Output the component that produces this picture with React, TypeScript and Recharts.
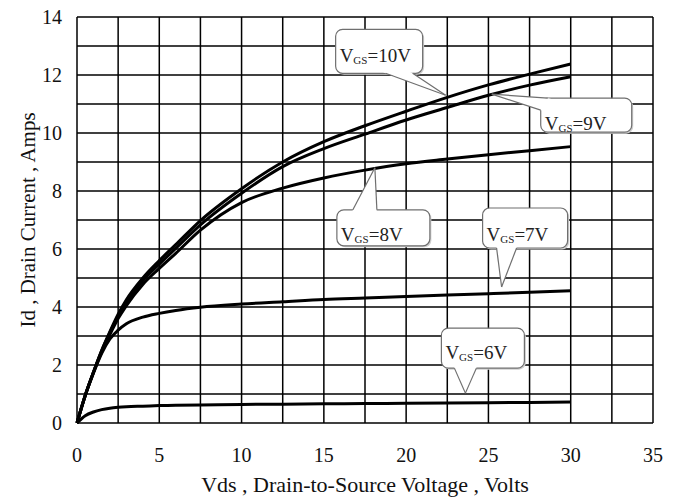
import React from "react";
import {
  LineChart,
  Line,
  XAxis,
  YAxis,
  CartesianGrid,
  ReferenceDot,
  Label,
} from "recharts";

// drain-source voltage sample points (V)
const vds = [0, 0.5, 1, 1.5, 2, 2.5, 3, 4, 5, 6, 7.5, 10, 12.5, 15, 17.5, 20, 22.5, 25, 27.5, 30];

// drain current (A) per gate voltage
const id10 = [0, 0.95, 1.75, 2.5, 3.15, 3.75, 4.25, 5.0, 5.6, 6.15, 6.98, 8.08, 9.0, 9.7, 10.25, 10.75, 11.23, 11.66, 12.03, 12.38];
const id9 = [0, 0.95, 1.75, 2.5, 3.12, 3.68, 4.15, 4.9, 5.48, 6.02, 6.83, 7.92, 8.84, 9.46, 9.96, 10.45, 10.88, 11.3, 11.65, 11.94];
const id8 = [0, 0.95, 1.75, 2.45, 3.05, 3.6, 4.05, 4.78, 5.33, 5.85, 6.65, 7.6, 8.1, 8.45, 8.72, 8.94, 9.1, 9.25, 9.39, 9.53];
const id7 = [0, 0.95, 1.72, 2.4, 2.9, 3.2, 3.42, 3.65, 3.78, 3.88, 3.99, 4.1, 4.18, 4.26, 4.31, 4.36, 4.41, 4.46, 4.51, 4.56];
const id6 = [0, 0.25, 0.38, 0.46, 0.51, 0.54, 0.56, 0.58, 0.6, 0.61, 0.62, 0.64, 0.65, 0.66, 0.67, 0.68, 0.69, 0.7, 0.71, 0.72];

// grid every 2.5 V / 1 A, labels every 5 V / 2 A
const xTicks = [0, 2.5, 5, 7.5, 10, 12.5, 15, 17.5, 20, 22.5, 25, 27.5, 30, 32.5, 35];
const yTicks = [0, 1, 2, 3, 4, 5, 6, 7, 8, 9, 10, 11, 12, 13, 14];

// callout labels and the point each tail points at (V, A)
const calloutLabels = ["10V", "9V", "8V", "7V", "6V"];
const calloutX = [22.4, 25.2, 18.1, 25.8, 23.6];
const calloutY = [11.3, 11.34, 8.8, 4.69, 1.03];

const data = vds.map((v, i) => ({
  vds: v,
  v10: id10[i],
  v9: id9[i],
  v8: id8[i],
  v7: id7[i],
  v6: id6[i],
}));

const FONT = "'Liberation Serif', 'Times New Roman', serif";

// box geometry relative to the tail tip, in px
type Box = {
  dx: number;
  dy: number;
  w: number;
  h: number;
  b1: [number, number];
  b2: [number, number];
  base: number;
};

const boxes: Box[] = [
  { dx: -110, dy: -66, w: 87, h: 44, b1: [-60, -22], b2: [-33, -22], base: 33 },
  { dx: 49, dy: 4, w: 91, h: 34, b1: [56, 4], b2: [49, 16], base: 32 },
  { dx: -38, dy: 42, w: 93, h: 36, b1: [-22, 42], b2: [2, 42], base: 31 },
  { dx: -19, dy: -79, w: 85, h: 40, b1: [-5, -39], b2: [15, -39], base: 33 },
  { dx: -24, dy: -65, w: 83, h: 40, b1: [-11, -25], b2: [11, -25], base: 31 },
];

function Callout({ cx, cy, label, box }: { cx: number; cy: number; label: string; box: Box }) {
  const bx = cx + box.dx;
  const by = cy + box.dy;
  const p1 = [cx + box.b1[0], cy + box.b1[1]];
  const p2 = [cx + box.b2[0], cy + box.b2[1]];
  // push the tail base a little inside the box so it hides the border there
  const mx = (p1[0] + p2[0]) / 2 - cx;
  const my = (p1[1] + p2[1]) / 2 - cy;
  const len = Math.hypot(mx, my) || 1;
  const ix = (mx / len) * 3;
  const iy = (my / len) * 3;
  const pts = [
    [cx, cy],
    p1,
    [p1[0] + ix, p1[1] + iy],
    [p2[0] + ix, p2[1] + iy],
    p2,
  ]
    .map((p) => p.join(","))
    .join(" ");
  return (
    <g>
      <rect x={bx + 1.5} y={by + 1.5} width={box.w} height={box.h} rx={7} fill="#cfcfcf" />
      <rect x={bx} y={by} width={box.w} height={box.h} rx={7} fill="#fff" stroke="#6f6f6f" strokeWidth={1.2} />
      <polygon points={pts} fill="#fff" stroke="none" />
      <line x1={cx} y1={cy} x2={p1[0]} y2={p1[1]} stroke="#6f6f6f" strokeWidth={1.2} />
      <line x1={cx} y1={cy} x2={p2[0]} y2={p2[1]} stroke="#6f6f6f" strokeWidth={1.2} />
      <text x={bx + 4} y={by + box.base} fontFamily={FONT} fontSize={19} fill="#222">
        V
        <tspan fontSize={11} dy={2}>GS</tspan>
        <tspan dy={-2}>={label}</tspan>
      </text>
    </g>
  );
}

const series = ["v10", "v9", "v8", "v7", "v6"];

export default function App() {
  const tickStyle = { fontFamily: FONT, fontSize: 20, fill: "#111" };
  return (
    <div style={{ position: "fixed", left: 0, top: 0, background: "#fff" }}>
      <LineChart
        width={678}
        height={497}
        data={data}
        margin={{ top: 17, right: 25, bottom: 0, left: 17 }}
      >
        <CartesianGrid stroke="#000" strokeWidth={1.5} strokeOpacity={1} />
        <XAxis
          dataKey="vds"
          type="number"
          domain={[0, 35]}
          ticks={xTicks}
          interval={0}
          tickFormatter={(v: number) => (v % 5 === 0 ? String(v) : "")}
          axisLine={false}
          tickLine={false}
          tickSize={0}
          tickMargin={25}
          height={74}
          tick={tickStyle}
        >
          <Label
            value="Vds , Drain-to-Source Voltage , Volts"
            position="insideBottom"
            offset={5}
            style={{ fontFamily: FONT, fontSize: 22, fill: "#111" }}
          />
        </XAxis>
        <YAxis
          type="number"
          domain={[0, 14]}
          ticks={yTicks}
          interval={0}
          tickFormatter={(v: number) => (v % 2 === 0 ? String(v) : "")}
          axisLine={false}
          tickLine={false}
          tickSize={0}
          tickMargin={15}
          width={60}
          tick={tickStyle}
        >
          <Label
            value="Id , Drain Current , Amps"
            angle={-90}
            position="insideLeft"
            offset={11}
            style={{ fontFamily: FONT, fontSize: 21, fill: "#111", textAnchor: "middle" }}
          />
        </YAxis>
        {series.map((key) => (
          <Line
            key={key}
            dataKey={key}
            type="monotone"
            stroke="#000"
            strokeWidth={3}
            dot={false}
            activeDot={false}
            isAnimationActive={false}
          />
        ))}
        {calloutLabels.map((label, i) => (
          <ReferenceDot
            key={label}
            x={calloutX[i]}
            y={calloutY[i]}
            r={0}
            ifOverflow="visible"
            shape={(p: any) => <Callout cx={p.cx} cy={p.cy} label={label} box={boxes[i]} />}
          />
        ))}
      </LineChart>
    </div>
  );
}
